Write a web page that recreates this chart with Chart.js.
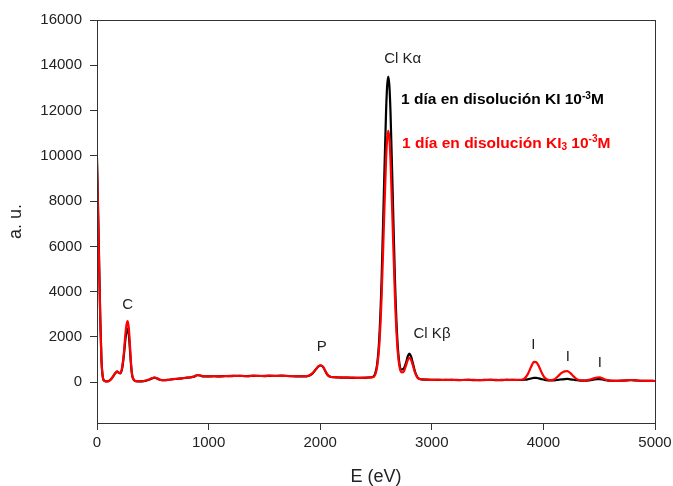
<!DOCTYPE html>
<html><head><meta charset="utf-8">
<script src="https://cdn.jsdelivr.net/npm/chart.js@4.4.0/dist/chart.umd.min.js"></script>
<style>html,body{margin:0;padding:0;background:#fff;} canvas{display:block;}</style>
</head><body>
<canvas id="c" width="673" height="486"></canvas>
<script>
// Energy axis (eV)
const energies = [0,10,20,30,40,50,60,80,100,120,140,160,180,195,210,225,240,255,265,275,285,295,305,315,330,350,380,420,460,490,515,540,570,600,640,680,720,760,800,840,870,900,925,950,1000,1050,1100,1150,1200,1250,1300,1350,1400,1450,1500,1550,1600,1650,1700,1750,1800,1850,1900,1930,1960,1985,2005,2025,2045,2065,2090,2120,2160,2200,2250,2300,2350,2400,
  2440,2470,2490,2510,2530,2550,2570,2590,2600,2610,2620,2630,2650,2670,2690,2710,2730,2750,2770,2785,2800,2815,2830,2850,2870,2890,2910,
  2950,3000,3050,3100,3150,3200,3250,3300,3350,3400,3450,3500,3550,3600,3650,3700,3750,3800,3830,3860,3890,3915,3935,3960,3985,4010,4040,4070,4100,4130,4160,4190,4215,4240,4270,4300,4330,4370,4410,4450,4480,4505,4530,4560,4600,4650,4700,4750,4790,4830,4880,4930,5000];
// 1 día en disolución KI 10^-3 M (black)
const kiCounts = [9900,7600,5100,2700,1000,300,90,40,45,110,230,380,470,420,390,600,1150,1900,2250,2370,2100,1450,750,300,100,50,40,50,100,160,200,160,100,90,110,135,150,170,195,220,250,310,300,260,255,265,260,275,270,285,275,270,285,280,270,285,280,290,275,265,260,255,290,380,560,700,740,680,500,330,240,220,210,205,200,195,190,195,
  210,230,350,785,2000,4520,8270,11930,13090,13500,13090,11930,8280,4520,2000,820,560,620,880,1150,1260,1130,850,460,230,150,125,
  115,110,105,100,110,100,95,105,100,95,100,105,100,95,100,105,100,100,110,130,165,195,195,170,135,105,85,80,85,105,125,140,145,130,110,90,75,70,85,115,135,140,120,90,65,60,70,80,95,80,65,60,55];
// 1 día en disolución KI3 10^-3 M (red)
const ki3Counts = [9600,7300,4900,2600,950,280,80,35,40,100,220,370,480,430,400,650,1250,2150,2550,2700,2400,1650,850,330,110,50,45,55,110,170,210,170,105,95,105,140,155,175,200,215,255,320,300,265,260,270,255,270,280,275,280,265,290,275,280,290,275,285,280,270,265,265,300,390,570,710,750,690,510,335,245,225,215,210,200,200,195,200,
  215,225,305,680,1670,3740,6820,9810,10760,11100,10760,9810,6820,3740,1670,700,430,480,760,980,1090,980,750,420,215,140,125,
  120,105,110,105,100,105,100,100,110,100,95,100,110,100,105,100,105,110,160,360,680,900,890,700,420,210,110,90,130,260,400,480,490,410,260,140,80,75,110,170,210,215,170,110,70,65,70,85,100,80,65,60,55];
const xTicks = [0,1000,2000,3000,4000,5000];
const yTicks = [0,2000,4000,6000,8000,10000,12000,14000,16000];
const seriesNames = ['1 día en disolución KI 10-3M','1 día en disolución KI3 10-3M'];
// Peak annotations (anchor in data units: energy, intensity)
const peakLabels = [
  {parts:[{s:'C'}], e:275, v:3480},
  {parts:[{s:'P'}], e:2013, v:1610},
  {parts:[{s:'Cl K\u03b1'}], e:2740, v:14360},
  {parts:[{s:'Cl K\u03b2'}], e:3002, v:2200},
  {parts:[{s:'I'}], e:3910, v:1700},
  {parts:[{s:'I'}], e:4218, v:1170},
  {parts:[{s:'I'}], e:4505, v:918}
];
const legendLabels = [
  {parts:[{s:'1 día en disolución KI 10'},{s:'-3',sup:true},{s:'M'}], e:2725, v:12270, color:'#000000'},
  {parts:[{s:'1 día en disolución KI'},{s:'3',sub:true},{s:' 10'},{s:'-3',sup:true},{s:'M'}], e:2734, v:10360, color:'#ff0000'}
];

const FONT = '"Liberation Sans", Arial, sans-serif';
const TXT = '#222222';

function drawRich(ctx, x, yCapCenter, parts, size, weight, color, align){
  const base = yCapCenter + size*0.36;
  const measure = () => {
    let w = 0;
    for (const p of parts){
      const fs = (p.sup||p.sub) ? size*0.65 : size;
      ctx.font = weight + ' ' + fs + 'px ' + FONT;
      w += ctx.measureText(p.s).width;
    }
    return w;
  };
  let cx = x;
  if (align === 'center') cx = x - measure()/2;
  ctx.fillStyle = color;
  ctx.textAlign = 'left';
  ctx.textBaseline = 'alphabetic';
  for (const p of parts){
    const fs = (p.sup||p.sub) ? size*0.65 : size;
    ctx.font = weight + ' ' + fs + 'px ' + FONT;
    let y = base;
    if (p.sup) y = base - size*0.38;
    if (p.sub) y = base + size*0.18;
    ctx.fillText(p.s, cx, y);
    cx += ctx.measureText(p.s).width;
  }
}

const annotPlugin = {
  id: 'annot',
  afterDatasetsDraw(chart){
    const {ctx, chartArea:a, scales:{x, y}} = chart;
    ctx.save();
    ctx.strokeStyle = '#333333';
    ctx.lineWidth = 1;
    ctx.strokeRect(Math.round(a.left)+0.5, Math.round(a.top)+0.5, Math.round(a.right-a.left), Math.round(a.bottom-a.top));
    for (const l of peakLabels){
      drawRich(ctx, x.getPixelForValue(l.e), y.getPixelForValue(l.v), l.parts, 15, 'normal', TXT, 'center');
    }
    for (const l of legendLabels){
      drawRich(ctx, x.getPixelForValue(l.e), y.getPixelForValue(l.v) - 15.5*0.36, l.parts, 15.5, 'bold', l.color, 'left');
    }
    ctx.restore();
  }
};

const toPoints = arr => energies.map((e,i)=>({x:e, y:arr[i]}));

new Chart(document.getElementById('c'), {
  type: 'line',
  data: {
    datasets: [
      {label: seriesNames[0], data: toPoints(kiCounts), order:1, borderColor:'#000000', borderWidth:2.2, pointRadius:0, cubicInterpolationMode:'monotone', fill:false},
      {label: seriesNames[1], data: toPoints(ki3Counts), order:0, borderColor:'#ff0000', borderWidth:2.2, pointRadius:0, cubicInterpolationMode:'monotone', fill:false}
    ]
  },
  options: {
    responsive: false,
    animation: false,
    devicePixelRatio: 1,
    layout: {padding: {top:20, right:18, left:0, bottom:0}},
    plugins: {legend:{display:false}, tooltip:{enabled:false}},
    scales: {
      x: {
        type:'linear', min:0, max:5000,
        afterBuildTicks: s => { s.ticks = xTicks.map(v=>({value:v})); },
        afterFit: s => { s.height = 63; s.paddingLeft = 0; s.paddingRight = 0; },
        grid: {display:true, drawOnChartArea:false, drawTicks:true, tickLength:7, color:'#333333'},
        border: {display:true, color:'#333333', width:1},
        ticks: {color:TXT, font:{family:FONT, size:15}, padding:4, maxRotation:0, autoSkip:false, callback: v => String(v)},
        title: {display:true, text:'E (eV)', color:TXT, font:{family:FONT, size:18, lineHeight:1}, padding:{top:0,bottom:0}}
      },
      y: {
        type:'linear', min:-1800, max:16000,
        afterBuildTicks: s => { s.ticks = yTicks.map(v=>({value:v})); },
        afterFit: s => { s.width = 97; s.paddingTop = 0; s.paddingBottom = 0; },
        grid: {display:true, drawOnChartArea:false, drawTicks:true, tickLength:7, color:'#333333'},
        border: {display:true, color:'#333333', width:1},
        ticks: {color:TXT, font:{family:FONT, size:15}, padding:8, autoSkip:false, callback: v => String(v)},
        title: {display:true, text:'a. u.', color:TXT, font:{family:FONT, size:18, lineHeight:1}, padding:{top:7,bottom:0}}
      }
    }
  },
  plugins: [annotPlugin]
});
</script>
</body></html>
